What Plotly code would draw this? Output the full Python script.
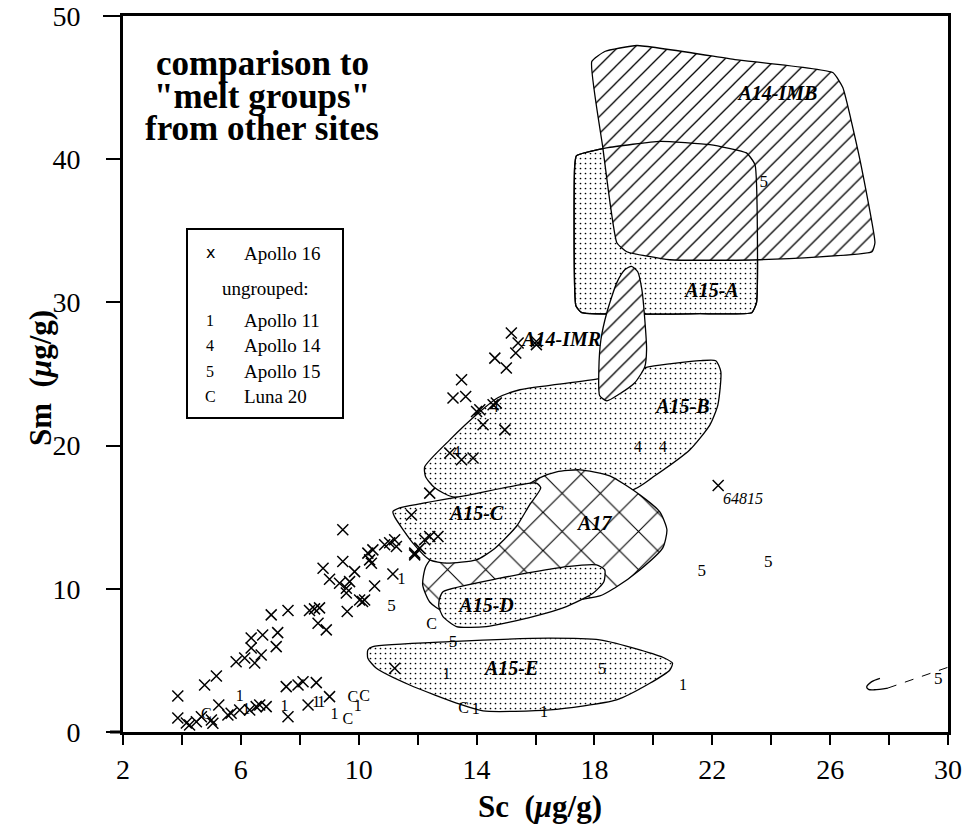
import plotly.graph_objects as go

# ---------------------------------------------------------------
# Apollo 16 melt rocks: Sc and Sm concentrations (ug/g)
# ---------------------------------------------------------------
a16_sc = [3.86, 4.77, 5.17, 7.03, 7.60, 8.33, 8.50, 8.67, 8.62, 8.90, 9.58, 9.61, 10.13,
          6.35, 6.74, 7.25, 7.20, 6.35, 6.13, 5.84, 6.47, 6.69,
          3.86, 4.15, 4.26, 4.49, 4.66, 5.00, 5.05, 5.25, 5.56, 5.67, 5.96, 6.30, 6.52, 6.64, 6.86,
          7.54, 7.94, 8.11, 8.56, 7.60, 8.28, 9.01,
          9.46, 9.46, 8.79, 9.01, 9.35, 9.69, 9.86, 9.58,
          10.31, 10.48, 10.37, 10.43, 10.88, 11.05, 11.22, 11.28, 11.90, 12.24, 12.41, 12.69, 12.07,
          10.54, 11.16, 10.03, 10.20, 11.22, 11.79, 12.41,
          13.09, 13.49, 13.88, 14.22, 14.96, 14.00, 14.11, 14.56, 14.67, 13.20, 13.63, 13.49,
          15.18, 15.41, 16.03, 16.03, 15.33, 14.62, 15.01, 11.90, 22.20]
a16_sm = [2.52, 3.28, 3.91, 8.18, 8.48, 8.48, 8.60, 8.67, 7.60, 7.13, 9.71, 8.41, 9.11,
          6.57, 6.78, 6.94, 5.96, 5.87, 5.17, 4.91, 4.82, 5.38,
          0.98, 0.63, 0.49, 0.72, 1.07, 0.84, 0.61, 1.89, 1.19, 1.31, 1.54, 1.54, 1.77, 1.89, 1.77,
          3.17, 3.28, 3.51, 3.45, 1.07, 1.89, 2.47,
          14.12, 11.90, 11.44, 10.67, 10.39, 10.50, 11.20, 10.04,
          12.49, 12.72, 12.02, 11.79, 13.07, 13.21, 13.42, 12.95, 12.37, 13.42, 13.65, 13.65, 12.84,
          10.20, 11.04, 9.22, 9.22, 4.45, 15.16, 16.68,
          19.48, 19.01, 19.13, 21.45, 21.10, 22.38, 22.50, 22.85, 22.97, 23.32, 23.43, 24.60,
          27.86, 27.16, 27.27, 27.05, 26.46, 26.11, 25.42, 12.49, 17.21]

# ungrouped melt rocks from other sites
a11_sc = [5.96, 6.18, 7.48, 8.56, 8.73, 9.18, 9.97, 11.45, 12.98, 13.97, 16.29, 21.01]
a11_sm = [2.47, 1.54, 1.77, 2.01, 2.01, 1.19, 1.77, 10.62, 3.98, 1.54, 1.31, 3.21]
a14_sc = [13.32, 14.62, 19.48, 20.33]
a14_sm = [19.48, 22.62, 19.83, 19.83]
a15_sc = [11.11, 13.20, 18.26, 21.64, 23.90, 23.75, 29.67]
a15_sm = [8.76, 6.20, 4.33, 11.20, 11.83, 38.34, 3.63]
l20_sc = [4.83, 9.63, 9.80, 10.20, 12.47, 13.56]
l20_sm = [1.19, 0.84, 2.35, 2.47, 7.48, 1.59]

# labelled sample
sample_name = ["64815"]
sample_label_sc = [23.04]
sample_label_sm = [16.21]

# ---------------------------------------------------------------
# melt-group fields from other sites (outline vertices, Sc / Sm)
# ---------------------------------------------------------------
a15a_sc = [18.41, 20.22, 21.92, 23.16, 23.45, 23.50, 23.34, 21.58, 17.57, 17.37, 17.33, 17.39, 18.41]
a15a_sm = [40.79, 41.25, 41.02, 40.44, 39.62, 29.96, 29.28, 29.21, 29.28, 29.77, 39.50, 40.25, 40.79]

a14imb_sc = [18.28, 17.91, 18.35, 19.44, 22.77, 26.09, 26.43, 27.01, 27.52, 27.42, 23.62, 20.56, 19.10, 18.76, 18.28]
a14imb_sm = [40.88, 46.82, 47.52, 47.94, 46.96, 46.05, 45.00, 39.97, 34.17, 33.54, 32.98, 32.98, 33.54, 34.17, 40.88]

a15b_sc = [13.09, 14.11, 14.72, 15.47, 18.18, 19.88, 21.58, 22.12, 22.29, 22.19, 21.92, 21.24, 20.05,
           19.30, 16.82, 13.19, 12.58, 12.27, 12.24, 13.09]
a15b_sm = [20.40, 22.36, 23.34, 23.90, 24.67, 25.51, 25.93, 25.93, 25.16, 22.85, 21.45, 19.71, 17.89,
           16.91, 16.91, 16.42, 17.05, 17.82, 18.52, 20.40]

a14imr_sc = [19.71, 19.77, 19.71, 19.37, 18.86, 18.42, 18.18, 18.15, 18.22, 18.42, 18.76, 19.03, 19.26, 19.47, 19.61, 19.71]
a14imr_sm = [28.79, 26.69, 25.51, 24.39, 23.62, 23.13, 23.48, 25.30, 27.39, 29.28, 31.38, 32.28, 32.52, 32.14, 30.89, 28.79]

a17_sc = [17.50, 18.52, 19.54, 20.22, 20.46, 20.32, 19.54, 18.69, 18.18, 12.92, 12.41, 12.17, 12.27,
          12.75, 14.11, 15.47, 16.14, 16.72, 17.50]
a17_sm = [18.31, 17.89, 16.56, 15.37, 14.12, 12.86, 11.32, 10.06, 9.50, 8.39, 9.08, 10.27, 11.53,
          12.86, 14.95, 16.91, 17.75, 18.17, 18.31]

a15c_sc = [13.77, 16.03, 16.18, 15.80, 15.35, 14.56, 13.99, 12.98, 12.41, 11.84, 11.22, 11.16, 11.39, 13.77]
a15c_sm = [16.56, 17.38, 17.05, 15.86, 14.35, 12.72, 12.02, 11.79, 12.02, 13.19, 15.02, 15.39, 15.65, 16.56]

a15d_sc = [14.79, 17.05, 18.07, 18.35, 18.32, 17.95, 17.05, 15.92, 14.33, 13.32, 12.86, 12.72, 12.75, 12.86, 14.79]
a15d_sm = [10.74, 11.55, 11.67, 11.32, 10.50, 9.69, 8.76, 8.06, 7.36, 7.36, 8.06, 8.76, 9.36, 9.80, 10.74]

a15e_sc = [13.09, 16.48, 18.18, 19.54, 20.39, 20.65, 20.56, 19.88, 18.75, 16.48, 14.22, 13.43, 11.73,
           10.60, 10.31, 10.31, 10.48, 13.09]
a15e_sm = [6.31, 6.55, 6.43, 5.73, 5.15, 4.80, 4.33, 3.40, 2.24, 1.54, 1.47, 1.94, 3.28,
           4.45, 5.15, 5.73, 5.96, 6.31]

# field names and label anchor points
field_names = ["A14-IMB", "A15-A", "A14-IMR", "A15-B", "A15-C", "A17", "A15-D", "A15-E"]
field_label_sc = [24.23, 21.99, 16.89, 21.00, 14.00, 18.01, 14.34, 15.19]
field_label_sm = [44.51, 30.75, 27.32, 22.64, 15.16, 14.47, 8.74, 4.33]

# small Apollo 15 trend at high Sc
hook_sc = [27.69, 27.40, 27.24, 27.30, 27.50, 27.96]
hook_sm = [3.75, 3.50, 3.14, 2.98, 2.95, 3.07]
trend_sc = [27.96, 30.0]
trend_sm = [3.07, 4.52]

# axis ticks
sc_ticks = list(range(2, 31, 2))
sc_ticklabels = [str(v) if (v - 2) % 4 == 0 else "" for v in sc_ticks]
sm_ticks = [0, 10, 20, 30, 40, 50]

# legend contents
legend_symbols = ["1", "4", "5", "C"]
legend_names = ["Apollo 11", "Apollo 14", "Apollo 15", "Luna 20"]

title_lines = ["comparison to", "\"melt groups\"", "from other sites"]

SERIF = "Liberation Serif"

fig = go.Figure()

STIPPLE = dict(shape=".", size=5, solidity=0.09, fgcolor="black", bgcolor="white", fgopacity=1)
HATCH = dict(shape="/", size=12, solidity=0.11, fgcolor="black", bgcolor="white", fgopacity=1)
CROSS = dict(shape="x", size=27, solidity=0.08, fgcolor="black", bgcolor="white", fgopacity=1)


def field(sc, sm, pattern, smooth=0.6):
    fig.add_trace(go.Scatter(
        x=sc, y=sm, mode="lines", fill="toself", fillcolor="white",
        fillpattern=pattern,
        line=dict(color="black", width=1.3, shape="spline", smoothing=smooth),
        hoverinfo="skip", showlegend=False))


def outline(sc, sm, smooth=0.6):
    fig.add_trace(go.Scatter(
        x=sc, y=sm, mode="lines",
        line=dict(color="black", width=1.3, shape="spline", smoothing=smooth),
        hoverinfo="skip", showlegend=False))


field(a15a_sc, a15a_sm, STIPPLE, 0.4)
field(a14imb_sc, a14imb_sm, HATCH, 0.4)
outline(a15a_sc, a15a_sm, 0.4)
field(a15b_sc, a15b_sm, STIPPLE)
field(a14imr_sc, a14imr_sm, HATCH)
field(a17_sc, a17_sm, CROSS)
field(a15c_sc, a15c_sm, STIPPLE)
field(a15d_sc, a15d_sm, STIPPLE)
field(a15e_sc, a15e_sm, STIPPLE)

outline(hook_sc, hook_sm, 1.0)
fig.add_trace(go.Scatter(x=trend_sc, y=trend_sm, mode="lines",
                         line=dict(color="black", width=1, dash="dash"),
                         hoverinfo="skip", showlegend=False))

# Apollo 16 samples
fig.add_trace(go.Scatter(
    x=a16_sc, y=a16_sm, mode="markers",
    marker=dict(symbol="x-thin", size=11, line=dict(color="black", width=1.5), color="black"),
    name="Apollo 16", showlegend=False))


def glyphs(sc, sm, char, size=16):
    fig.add_trace(go.Scatter(
        x=sc, y=sm, mode="text", text=[char] * len(sc),
        textfont=dict(family=SERIF, size=size, color="black"),
        textposition="middle center", showlegend=False))


glyphs(a11_sc, a11_sm, "1")
glyphs(a14_sc, a14_sm, "4")
glyphs(a15_sc, a15_sm, "5", 17)
glyphs(l20_sc, l20_sm, "C")

fig.add_trace(go.Scatter(
    x=sample_label_sc, y=sample_label_sm, mode="text", text=sample_name,
    textfont=dict(family=SERIF, size=16, color="black", style="italic"),
    textposition="middle center", showlegend=False))

fig.add_trace(go.Scatter(
    x=field_label_sc, y=field_label_sm, mode="text", text=field_names,
    textfont=dict(family=SERIF, size=20, color="black", style="italic", weight="bold"),
    textposition="middle center", showlegend=False))

# ---------------------------------------------------------------
# layout
# ---------------------------------------------------------------
L, R, T, B = 123, 18, 16, 94
W, H = 966, 826
pw, ph = W - L - R, H - T - B


def px(x):
    return (x - L) / pw


def py(y):
    return (H - B - y) / ph


annotations = []
for i, line in enumerate(title_lines):
    annotations.append(dict(
        text=f"<b>{line}</b>", x=px(262), y=py(63 + 33 * i), xref="paper", yref="paper",
        showarrow=False, xanchor="center", yanchor="middle",
        font=dict(family=SERIF, size=35, color="black")))

# legend box
annotations.append(dict(text="x", x=px(210), y=py(252), xref="paper", yref="paper",
                        showarrow=False, xanchor="center", yanchor="middle",
                        font=dict(family="DejaVu Sans", size=16, color="black")))
annotations.append(dict(text="Apollo 16", x=px(242), y=py(253), xref="paper", yref="paper",
                        showarrow=False, xanchor="left", yanchor="middle",
                        font=dict(family=SERIF, size=19, color="black")))
annotations.append(dict(text="ungrouped:", x=px(265), y=py(288), xref="paper", yref="paper",
                        showarrow=False, xanchor="center", yanchor="middle",
                        font=dict(family=SERIF, size=19, color="black")))
for i, (sym, name) in enumerate(zip(legend_symbols, legend_names)):
    yy = py(320 + 25.5 * i)
    annotations.append(dict(text=sym, x=px(210), y=yy, xref="paper", yref="paper",
                            showarrow=False, xanchor="center", yanchor="middle",
                            font=dict(family=SERIF, size=16, color="black")))
    annotations.append(dict(text=name, x=px(242), y=yy, xref="paper", yref="paper",
                            showarrow=False, xanchor="left", yanchor="middle",
                            font=dict(family=SERIF, size=19, color="black")))

# axis titles
annotations.append(dict(text="<b>Sc\u00a0\u00a0(<i>\u03bc</i>g/g)</b>", x=px(540), y=py(806),
                        xref="paper", yref="paper", showarrow=False,
                        xanchor="center", yanchor="middle",
                        font=dict(family=SERIF, size=31, color="black")))
annotations.append(dict(text="<b>Sm\u00a0\u00a0(<i>\u03bc</i>g/g)</b>", x=px(40), y=py(378),
                        xref="paper", yref="paper", showarrow=False, textangle=-90,
                        xanchor="center", yanchor="middle",
                        font=dict(family=SERIF, size=31, color="black")))

shapes = [
    # legend frame
    dict(type="rect", xref="paper", yref="paper",
         x0=px(187), x1=px(343), y0=py(418), y1=py(229),
         line=dict(color="black", width=2), fillcolor="white", layer="below"),
    # frame lines run slightly past the left axis
    dict(type="line", xref="paper", yref="paper", x0=px(103), x1=0, y0=1, y1=1,
         line=dict(color="black", width=2)),
    dict(type="line", xref="paper", yref="paper", x0=px(110), x1=0, y0=0, y1=0,
         line=dict(color="black", width=3)),
]

fig.update_layout(
    width=W, height=H,
    margin=dict(l=L, r=R, t=T, b=B, autoexpand=False),
    paper_bgcolor="white", plot_bgcolor="white",
    showlegend=False,
    annotations=annotations,
    shapes=shapes,
    font=dict(family=SERIF, color="black"),
)

fig.update_xaxes(
    range=[2, 30], tickvals=sc_ticks, ticktext=sc_ticklabels,
    ticks="outside", ticklen=10, tickwidth=2, tickcolor="black",
    tickfont=dict(family=SERIF, size=28, color="black"),
    ticklabelstandoff=0, automargin=False,
    showline=True, linewidth=3, linecolor="black", mirror=True,
    showgrid=False, zeroline=False)
fig.update_yaxes(
    range=[0, 50], tickvals=sm_ticks,
    ticks="outside", ticklen=14, tickwidth=2, tickcolor="black",
    tickfont=dict(family=SERIF, size=28, color="black"),
    ticklabelstandoff=20, automargin=False,
    showline=True, linewidth=3, linecolor="black", mirror=True,
    showgrid=False, zeroline=False)

fig.write_html("out.html")
